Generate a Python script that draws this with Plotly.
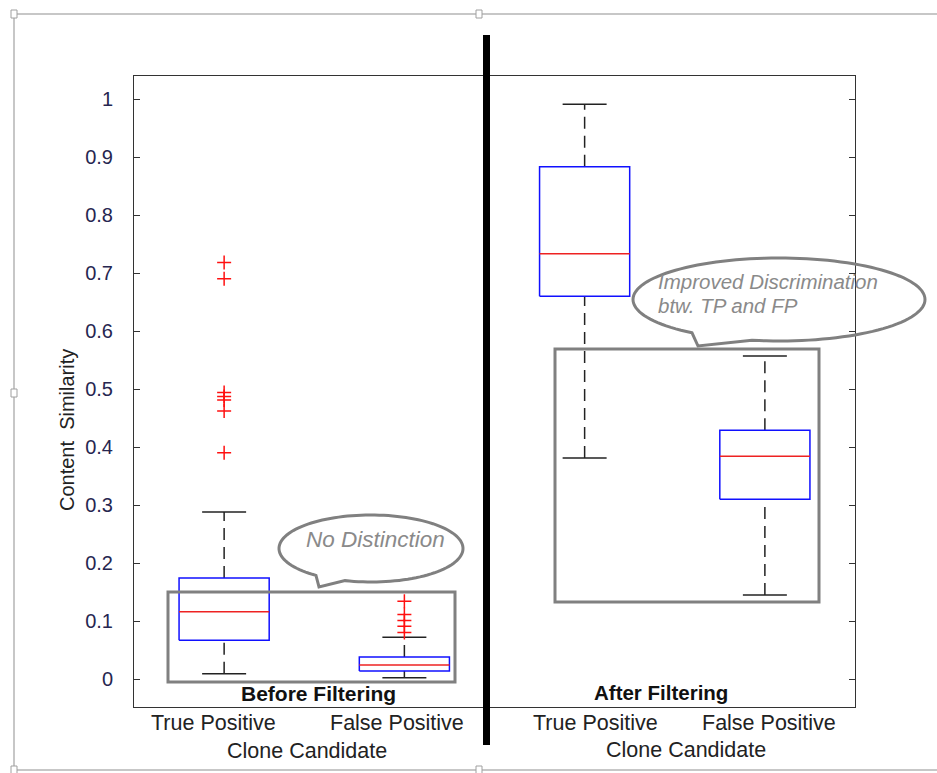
import numpy as np
import plotly.graph_objects as go

# ---------------- data ----------------
panels = ["Before Filtering", "After Filtering"]
categories = ["True Positive", "False Positive", "True Positive", "False Positive"]
positions = [1, 2, 3, 4]
lower_whisker = [0.009, 0.002, 0.381, 0.145]
q1 = [0.067, 0.014, 0.660, 0.310]
median = [0.116, 0.024, 0.733, 0.384]
q3 = [0.174, 0.038, 0.883, 0.429]
upper_whisker = [0.288, 0.072, 0.991, 0.557]
outliers_tp_before = [0.718, 0.690, 0.494, 0.487, 0.481, 0.462, 0.390]
outliers_fp_before = [0.134, 0.111, 0.101, 0.091, 0.080]
y_ticks = [0, 0.1, 0.2, 0.3, 0.4, 0.5, 0.6, 0.7, 0.8, 0.9, 1]

# ---------------- geometry helpers ----------------
W, H = 937, 773
L, R, T, B = 134, 82, 76, 66
PW, PH = W - L - R, H - T - B


def P(px, py):
    return (px - L) / PW, (H - B - py) / PH


BOX_HALF = 0.25
CAP_HALF = 0.122

fig = go.Figure()

# boxes
bx, by, mx, my, wx, wy, cx_, cy_ = [], [], [], [], [], [], [], []
for p, a, m, b, lw, uw in zip(positions, q1, median, q3, lower_whisker, upper_whisker):
    bx += [p - BOX_HALF, p + BOX_HALF, p + BOX_HALF, p - BOX_HALF, p - BOX_HALF, None]
    by += [a, a, b, b, a, None]
    mx += [p - BOX_HALF, p + BOX_HALF, None]
    my += [m, m, None]
    wx += [p, p, None, p, p, None]
    wy += [b, uw, None, lw, a, None]
    cx_ += [p - CAP_HALF, p + CAP_HALF, None, p - CAP_HALF, p + CAP_HALF, None]
    cy_ += [uw, uw, None, lw, lw, None]

fig.add_trace(go.Scatter(x=wx, y=wy, mode="lines", line=dict(color="#222", width=1.5, dash="12px,7px"),
                         hoverinfo="skip", showlegend=False))
fig.add_trace(go.Scatter(x=cx_, y=cy_, mode="lines", line=dict(color="#222", width=1.5),
                         hoverinfo="skip", showlegend=False))
fig.add_trace(go.Scatter(x=bx, y=by, mode="lines", line=dict(color="#1010ff", width=1.5),
                         hoverinfo="skip", showlegend=False))
fig.add_trace(go.Scatter(x=mx, y=my, mode="lines", line=dict(color="#ee2222", width=1.5),
                         hoverinfo="skip", showlegend=False))

ox = [positions[0]] * len(outliers_tp_before) + [positions[1]] * len(outliers_fp_before)
oy = outliers_tp_before + outliers_fp_before
fig.add_trace(go.Scatter(x=ox, y=oy, mode="markers",
                         marker=dict(symbol="cross-thin", size=10, line=dict(color="#ff1010", width=1.5)),
                         hoverinfo="skip", showlegend=False))

shapes = []
GRAY = "#808080"


def rect_px(x0, y0, x1, y1, color, width, fill="rgba(0,0,0,0)"):
    a = P(x0, y0)
    b = P(x1, y1)
    return dict(type="rect", xref="paper", yref="paper", x0=a[0], y0=a[1], x1=b[0], y1=b[1],
                line=dict(color=color, width=width), fillcolor=fill, layer="above")


def bubble(cx, cy, rx, ry, t0, t1, tip):
    ts = np.linspace(t0, t1, 120)
    pts = [P(cx + rx * np.cos(t), cy + ry * np.sin(t)) for t in ts]
    d = "M {:.5f},{:.5f} ".format(*pts[0])
    d += " ".join("L {:.5f},{:.5f}".format(*q) for q in pts[1:])
    tp = P(*tip)
    d += " L {:.5f},{:.5f} Z".format(*tp)
    return dict(type="path", xref="paper", yref="paper", path=d,
                line=dict(color=GRAY, width=3), fillcolor="rgba(0,0,0,0)", layer="above")


# outer frame (document frame)
FR = "#b4b4b4"
for (x0, y0, x1, y1) in [(14, 14, 940, 14), (14, 14, 14, 770), (14, 770, 940, 770)]:
    a, b = P(x0, y0), P(x1, y1)
    shapes.append(dict(type="line", xref="paper", yref="paper", x0=a[0], y0=a[1], x1=b[0], y1=b[1],
                       line=dict(color=FR, width=1.5), layer="below"))
for (hx, hy) in [(14, 14), (479, 14), (14, 393), (14, 770), (479, 770)]:
    shapes.append(rect_px(hx - 3, hy - 4, hx + 3, hy + 4, "#a0a0a0", 1, fill="white"))

# highlight rectangles
shapes.append(rect_px(168, 592, 455, 682, GRAY, 3))
shapes.append(rect_px(555, 349, 819, 602, GRAY, 3))

# speech bubbles
shapes.append(bubble(371, 548.5, 92, 33.5, 2.212, 1.857 + 2 * np.pi, (319, 587)))
shapes.append(bubble(779, 299.5, 146, 41.5, 2.209, 1.757 + 2 * np.pi, (698, 346)))

# thick separator
a, b = P(486.5, 35), P(486.5, 745)
shapes.append(dict(type="line", xref="paper", yref="paper", x0=a[0], y0=a[1], x1=b[0], y1=b[1],
                   line=dict(color="black", width=7), layer="above"))

annotations = []
FONT = "Liberation Sans, Arial, sans-serif"


def ann_px(text, px, py, size, color="#222", bold=False, italic=False, xanchor="center", angle=0, family=FONT):
    x, y = P(px, py)
    if bold:
        text = "<b>" + text + "</b>"
    if italic:
        text = "<i>" + text + "</i>"
    annotations.append(dict(text=text, x=x, y=y, xref="paper", yref="paper", showarrow=False,
                            xanchor=xanchor, yanchor="middle", textangle=angle,
                            font=dict(family=family, size=size, color=color)))


# category tick labels (drawn at axis positions)
shifts = [-11, -7, 11, 4]
for p, c, s in zip(positions, categories, shifts):
    annotations.append(dict(text=c, x=p, xref="x", y=P(0, 723)[1], yref="paper", xshift=s,
                            showarrow=False, xanchor="center", yanchor="middle",
                            font=dict(family=FONT, size=21.5, color="#222")))

ann_px("Clone Candidate", 307, 751, 21.5)
ann_px("Clone Candidate", 686, 750, 21.5)
ann_px(panels[0], 318, 693, 21, color="#111", bold=True)
ann_px(panels[1], 661, 692, 20.5, color="#111", bold=True)
ann_px("No Distinction", 375, 539, 22.5, color="#8a8a8a", italic=True)
ann_px("Improved Discrimination", 656, 281, 20.5, color="#8a8a8a", italic=True, xanchor="left")
ann_px("btw. TP and FP", 656, 305, 20.5, color="#8a8a8a", italic=True, xanchor="left")
ann_px("Content  Similarity", 67, 430, 20, color="#222", angle=-90,
       family="Liberation Sans Narrow, Arial Narrow, sans-serif")

fig.update_layout(
    width=W, height=H, autosize=False,
    margin=dict(l=L, r=R, t=T, b=B, pad=0),
    paper_bgcolor="white", plot_bgcolor="white",
    shapes=shapes, annotations=annotations,
    xaxis=dict(range=[0.5, 4.5], showline=True, mirror=True, linecolor="#333", linewidth=1,
               showticklabels=False, ticks="", showgrid=False, zeroline=False),
    yaxis=dict(range=[-(707 - 679) / 580.0, (679 - 76) / 580.0], tickvals=y_ticks,
               ticktext=[("%g" % v) for v in y_ticks],
               ticks="inside", ticklen=6, tickcolor="#333", tickwidth=1,
               showline=True, mirror="ticks", linecolor="#333", linewidth=1,
               showgrid=False, zeroline=False, ticklabelstandoff=16,
               tickfont=dict(family=FONT, size=20, color="#262650")),
)

fig.write_html("out.html")
